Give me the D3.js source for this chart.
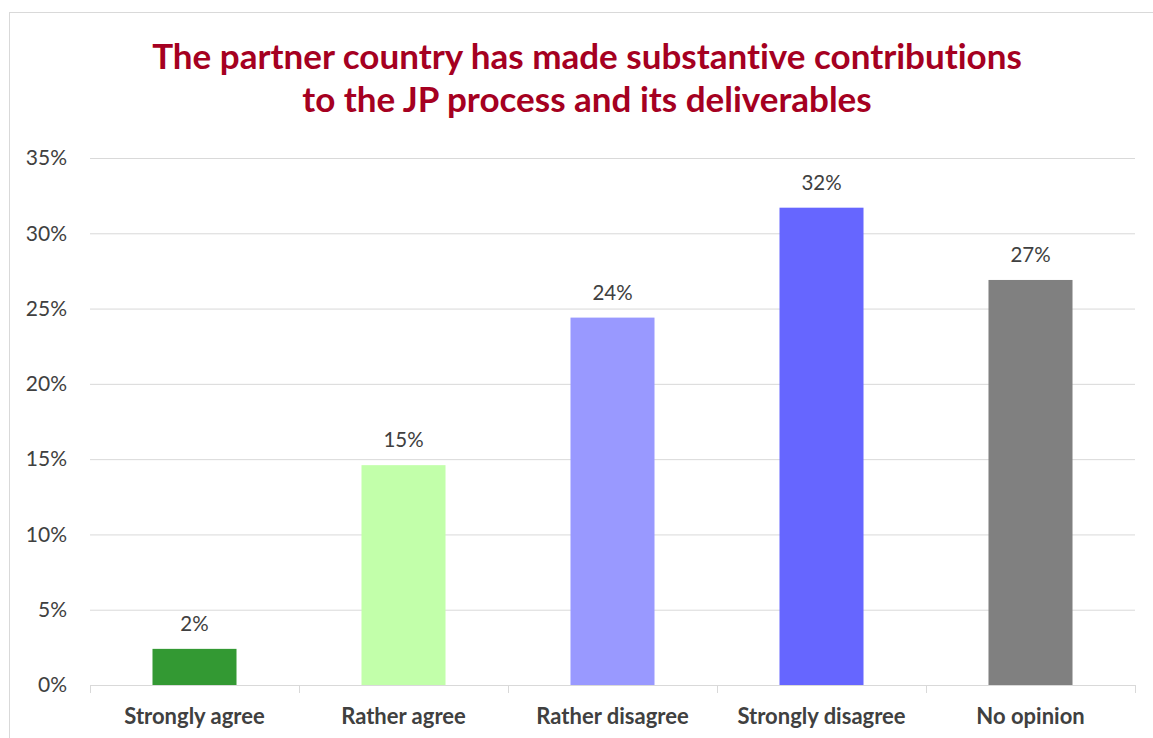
<!DOCTYPE html>
<html>
<head>
<meta charset="utf-8">
<script src="https://cdn.jsdelivr.net/npm/d3@7"></script>
<style>
  html, body { margin: 0; padding: 0; background: #fff; }
  svg { display: block; }
  text { font-family: Lato, "Open Sans", sans-serif; font-variant-ligatures: none; }
</style>
</head>
<body>
<svg id="chart" width="1153" height="738"></svg>
<script>
// Survey responses: share of respondents per answer
const categories = ["Strongly agree", "Rather agree", "Rather disagree", "Strongly disagree", "No opinion"];
const shares = [0.024, 0.146, 0.244, 0.317, 0.269];
const barColors = ["#339933", "#C2FFAA", "#9999FF", "#6666FF", "#808080"];
const yTicks = [0, 0.05, 0.10, 0.15, 0.20, 0.25, 0.30, 0.35];
const titleLines = [
  "The partner country has made substantive contributions",
  "to the JP process and its deliverables"
];

const svg = d3.select("#chart");
const W = 1153, H = 738;
const plot = { left: 90, right: 1135, top: 158, bottom: 685 };

// chart frame
svg.append("rect")
  .attr("x", 9.5).attr("y", 12.5)
  .attr("width", W + 20).attr("height", H + 20)
  .attr("fill", "#fff").attr("stroke", "#d9d9d9");

const x = d3.scaleBand()
  .domain(categories)
  .range([plot.left, plot.right])
  .paddingInner(0.598)
  .paddingOuter(0.299);

const y = d3.scaleLinear()
  .domain([0, 0.35])
  .range([plot.bottom, plot.top]);

const pct = d3.format(".0%");

// horizontal gridlines + y labels
const yAxis = d3.axisLeft(y)
  .tickValues(yTicks)
  .tickFormat(pct)
  .tickSize(-(plot.right - plot.left))
  .tickPadding(23);

const gy = svg.append("g")
  .attr("transform", `translate(${plot.left},0)`)
  .call(yAxis);
gy.select(".domain").remove();
gy.selectAll(".tick line").attr("stroke", "#d9d9d9").attr("stroke-width", 1);
gy.selectAll(".tick text")
  .attr("fill", "#404040")
  .style("font-size", "21px");

// category axis with boundary ticks
const step = x.step();
const bounds = d3.range(categories.length + 1).map(i => plot.left + i * step);
svg.append("line")
  .attr("x1", plot.left).attr("x2", plot.right)
  .attr("y1", plot.bottom + 0.5).attr("y2", plot.bottom + 0.5)
  .attr("stroke", "#d9d9d9");
svg.selectAll(".bound").data(bounds).join("line")
  .attr("class", "bound")
  .attr("x1", d => Math.round(d) + 0.5).attr("x2", d => Math.round(d) + 0.5)
  .attr("y1", plot.bottom).attr("y2", plot.bottom + 8)
  .attr("stroke", "#d9d9d9");

svg.selectAll(".cat").data(categories).join("text")
  .attr("class", "cat")
  .attr("x", d => x(d) + x.bandwidth() / 2)
  .attr("y", 724)
  .attr("text-anchor", "middle")
  .attr("fill", "#404040")
  .style("font-size", "22px")
  .style("font-weight", "bold")
  .text(d => d);

// bars
const rows = categories.map((c, i) => ({ c, v: shares[i], color: barColors[i] }));
svg.selectAll(".bar").data(rows).join("rect")
  .attr("class", "bar")
  .attr("x", d => x(d.c))
  .attr("y", d => y(d.v))
  .attr("width", x.bandwidth())
  .attr("height", d => y(0) - y(d.v))
  .attr("fill", d => d.color);

// value labels
svg.selectAll(".val").data(rows).join("text")
  .attr("class", "val")
  .attr("x", d => x(d.c) + x.bandwidth() / 2)
  .attr("y", d => y(d.v) - 18)
  .attr("text-anchor", "middle")
  .attr("fill", "#404040")
  .style("font-size", "20.5px")
  .text(d => pct(d.v));

// title
svg.selectAll(".title").data(titleLines).join("text")
  .attr("class", "title")
  .attr("x", 587)
  .attr("y", (d, i) => 69 + i * 43)
  .attr("text-anchor", "middle")
  .attr("fill", "#A50021")
  .style("font-size", "35px")
  .style("font-weight", "bold")
  .text(d => d);
</script>
</body>
</html>
